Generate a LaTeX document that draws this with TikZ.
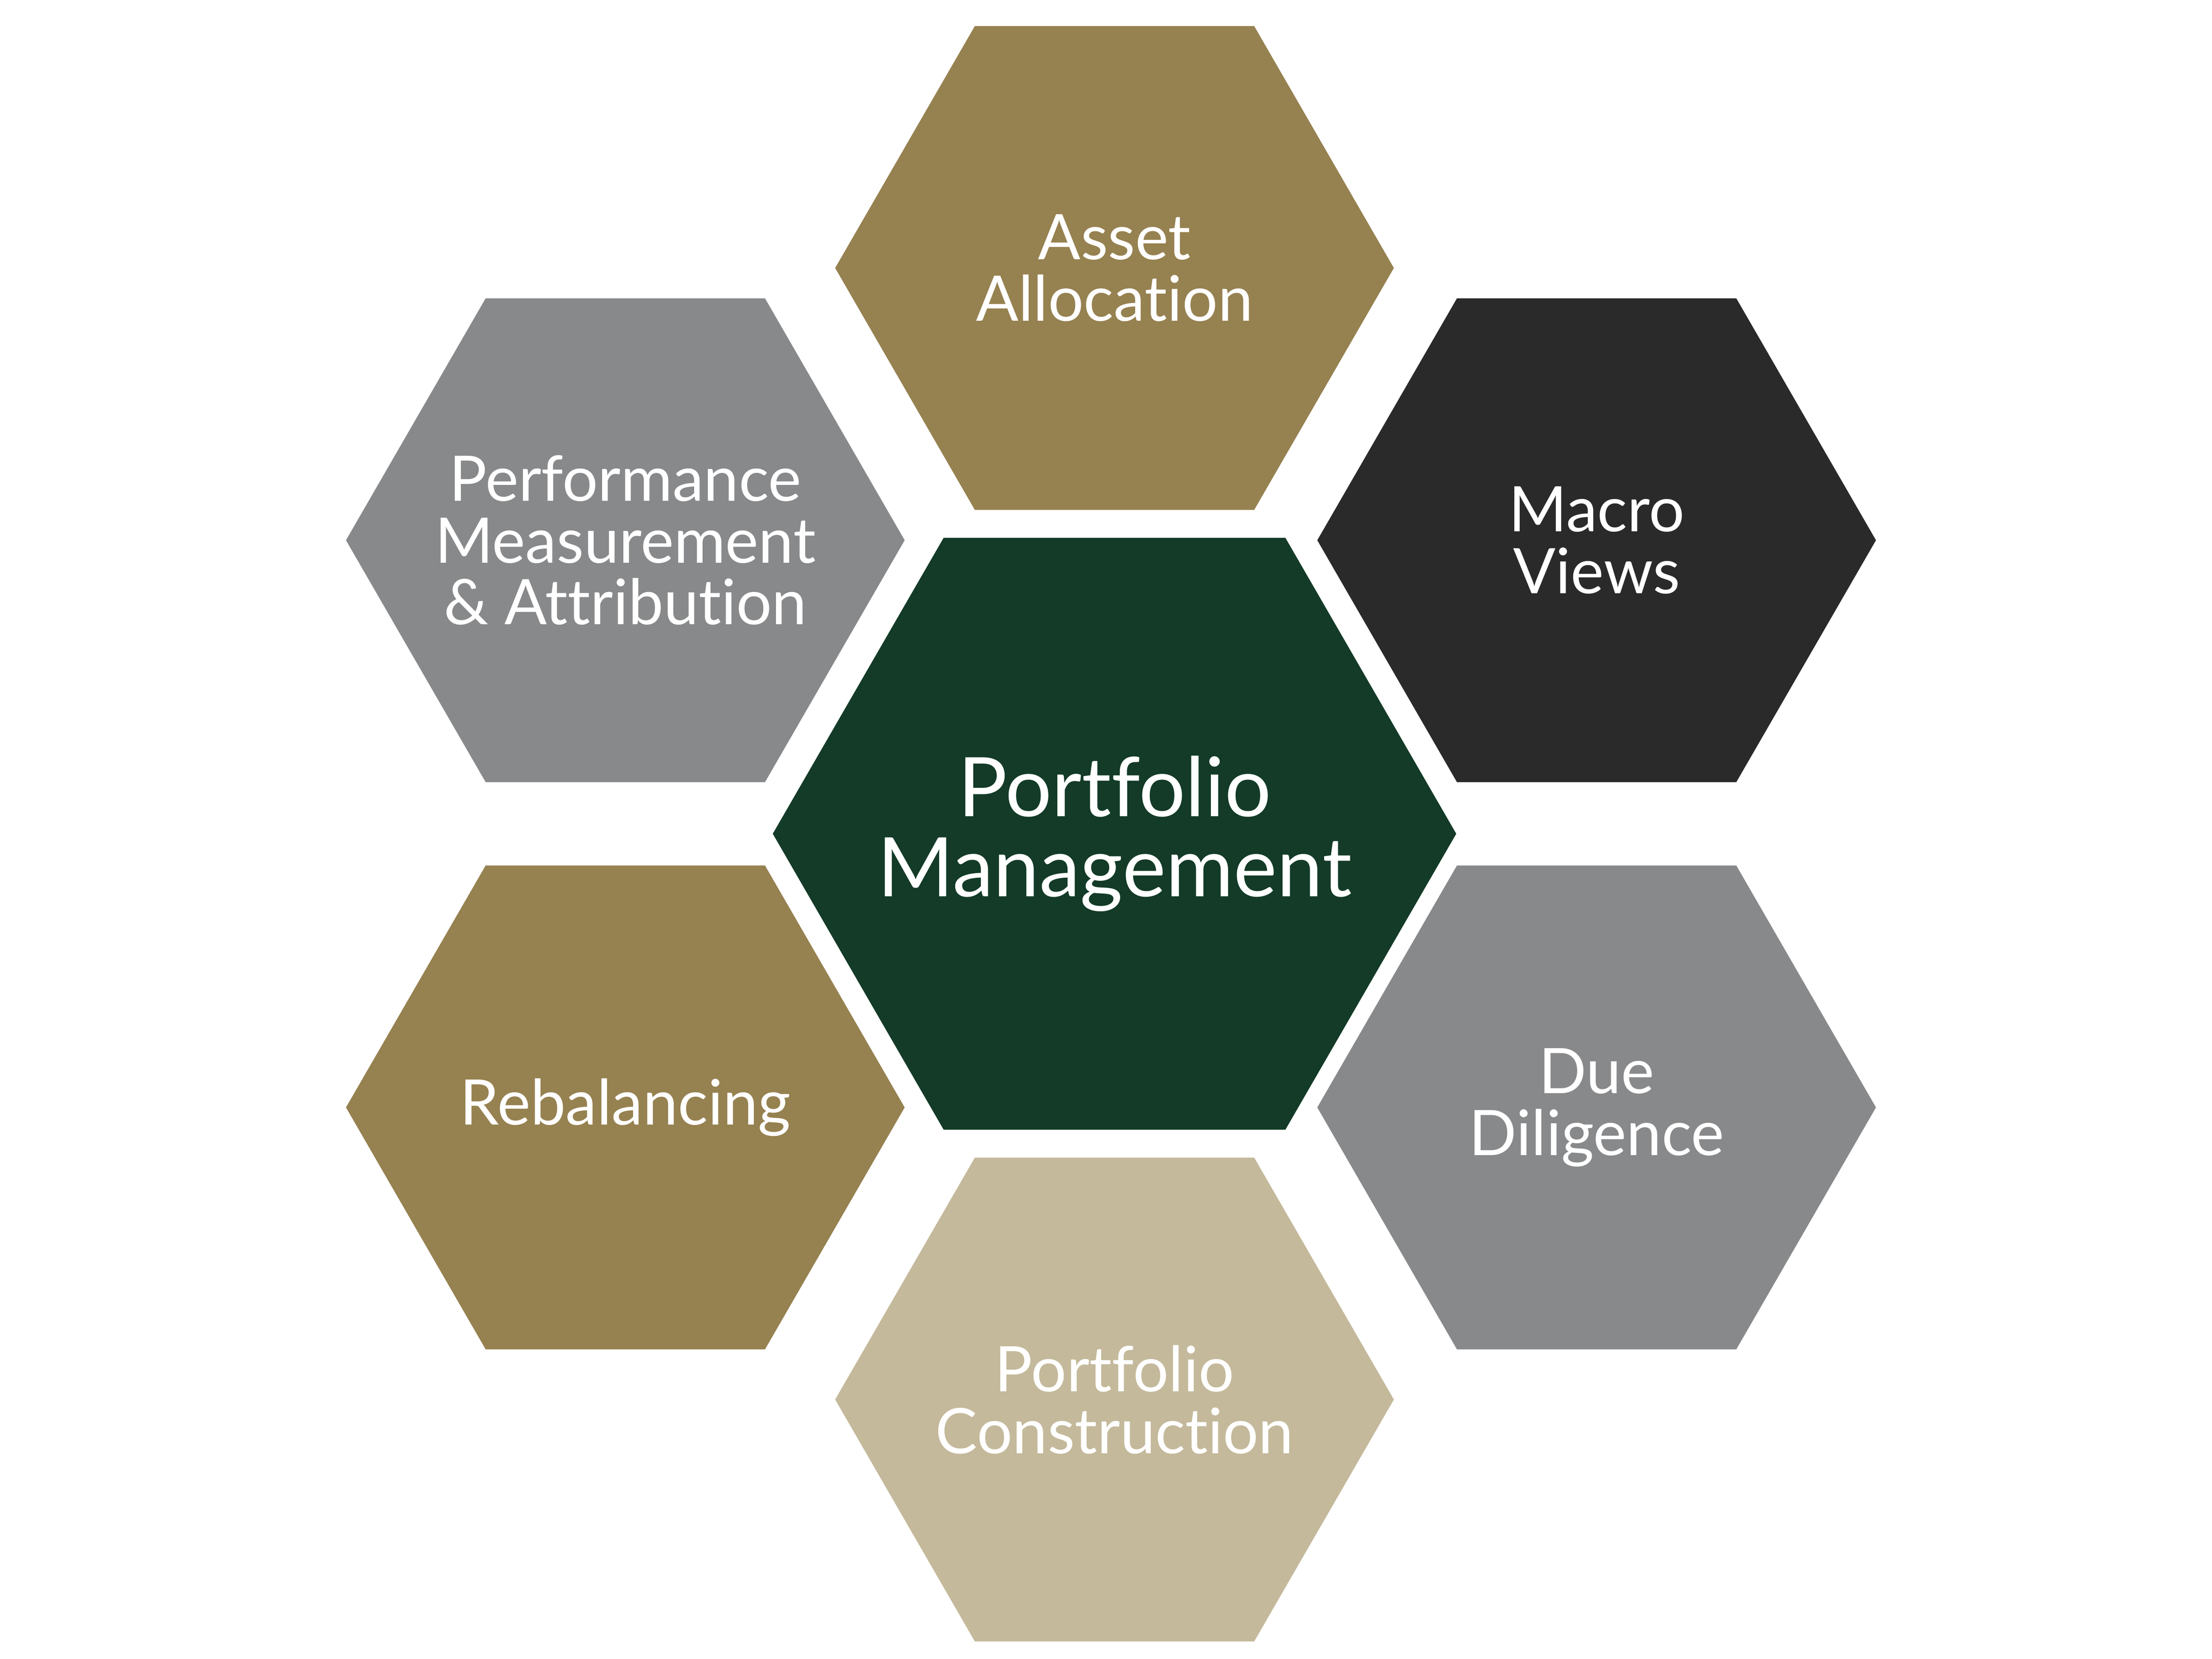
\documentclass[tikz,border=0pt]{standalone}
\usepackage{fontspec}
\setmainfont{Lato}[Ligatures=NoCommon]
\definecolor{olive}{HTML}{968150}
\definecolor{darkhex}{HTML}{2A2A2A}
\definecolor{grayhex}{HTML}{88898B}
\definecolor{greenhex}{HTML}{133B27}
\definecolor{beige}{HTML}{C4B99B}
\tikzset{
 lbl/.style={text=white, align=center, inner sep=0pt, font=\fontsize{12.6}{12.4}\selectfont},
 biglbl/.style={lbl, font=\fontsize{16.5}{16}\selectfont}
}
\newcommand\hexshape[4]{\fill[#4, shift={(#1,#2)}] (180:#3) -- (120:#3) -- (60:#3) -- (0:#3) -- (-60:#3) -- (-120:#3) -- cycle;}
\begin{document}
\begin{tikzpicture}[x=0.01cm,y=-0.01cm]
\useasboundingbox (0,0) rectangle (1560,1170);
\hexshape{786}{588}{241}{greenhex}
\hexshape{786}{189}{197}{olive}
\hexshape{1126}{381}{197}{darkhex}
\hexshape{441}{381}{197}{grayhex}
\hexshape{441}{781}{197}{olive}
\hexshape{1126}{781}{197}{grayhex}
\hexshape{786}{987}{197}{beige}
\node[biglbl] (pm) at (786,588) {Portfolio\\Management};
\node[lbl] (aa) at (786,189) {Asset\\Allocation};
\node[lbl] (mv) at (1126,381) {Macro\\Views};
\node[lbl] (pf) at (441,381) {Performance\\Measurement\\\& Attribution};
\node[lbl] (rb) at (441,781) {Rebalancing};
\node[lbl] (dd) at (1126,781) {Due\\Diligence};
\node[lbl] (pc) at (786,987) {Portfolio\\Construction};
\end{tikzpicture}
\end{document}
